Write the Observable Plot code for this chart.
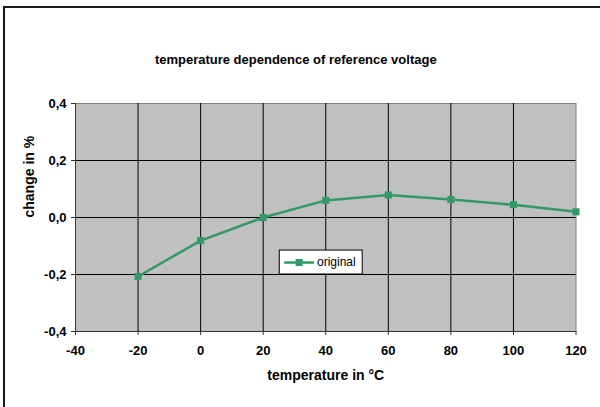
<!DOCTYPE html>
<html>
<head>
<meta charset="utf-8">
<script src="https://cdn.jsdelivr.net/npm/d3@7"></script>
<script src="https://cdn.jsdelivr.net/npm/@observablehq/plot@0.6"></script>
<style>
  html, body { margin: 0; padding: 0; background: #fff; }
  #wrap { position: relative; width: 600px; height: 407px; overflow: hidden; }
  #border { position: absolute; left: 3px; top: 6px; width: 700px; height: 600px; border: 2px solid #1a1a1a; box-sizing: border-box; pointer-events: none; }
  svg { font-family: "Liberation Sans", Arial, sans-serif; }
</style>
</head>
<body>
<div id="wrap"><div id="border"></div></div>
<script>
const temperatures = [-20, 0, 20, 40, 60, 80, 100, 120];
const changes = [-0.207, -0.081, 0.0, 0.06, 0.079, 0.063, 0.045, 0.02];
const xTicks = [-40, -20, 0, 20, 40, 60, 80, 100, 120];
const yTicks = [-0.4, -0.2, 0.0, 0.2, 0.4];
const seriesName = "original";
const title = "temperature dependence of reference voltage";
const xLabel = "temperature in °C";
const yLabel = "change in %";

const data = temperatures.map((t, i) => ({t, v: changes[i]}));
const fmtY = v => (v < 0 ? "-" : "") + Math.abs(v).toFixed(1).replace(".", ",");
const fmtX = v => (v < 0 ? "-" : "") + Math.abs(v);

const green = "#339966";

// legend placement (layout, in data units of the plot frame)
const LG = {x1: 25.3, x2: 51.8, y1: -0.116, y2: -0.2, lx1: 26.7, lx2: 36.3, mx: 31.5, tx: 37.2, ly: -0.158};

const chart = Plot.plot({
  width: 600,
  height: 407,
  marginLeft: 75,
  marginRight: 24.5,
  marginTop: 103,
  marginBottom: 76,
  style: {fontFamily: "'Liberation Sans', Arial, sans-serif", background: "transparent"},
  x: {domain: [-40, 120]},
  y: {domain: [-0.4, 0.4]},
  marks: [
    Plot.frame({fill: "#c0c0c0", stroke: "#808080"}),
    Plot.gridX(xTicks.slice(1, -1), {stroke: "#000", strokeOpacity: 1, strokeWidth: 1}),
    Plot.gridY(yTicks.slice(1, -1), {stroke: "#000", strokeOpacity: 1, strokeWidth: 1}),
    Plot.ruleX([-40], {stroke: "#333", strokeWidth: 1}),
    Plot.ruleY([-0.4], {stroke: "#333", strokeWidth: 1}),
    Plot.axisX(xTicks, {tickSize: 4, tickPadding: 10, fontSize: 13, fontWeight: "bold", fill: "#000", stroke: "#333",
      tickFormat: fmtX, label: null}),
    Plot.axisY(yTicks, {tickSize: 4, tickPadding: 5, fontSize: 13, fontWeight: "bold", fill: "#000", stroke: "#333",
      tickFormat: fmtY, label: null}),
    Plot.text([xLabel], {frameAnchor: "bottom", dy: 48, fontSize: 14, fontWeight: "bold", fill: "#000"}),
    Plot.text([yLabel], {frameAnchor: "left", dx: -46, rotate: -90, fontSize: 14, fontWeight: "bold", fill: "#000"}),
    Plot.text([title], {frameAnchor: "top", dy: -49, dx: -30, fontSize: 13, fontWeight: "bold", fill: "#000"}),
    Plot.line(data, {x: "t", y: "v", stroke: green, strokeWidth: 2.5}),
    Plot.dot(data, {x: "t", y: "v", symbol: "square", r: 4, fill: green, stroke: "none"}),
    // legend
    Plot.rect([seriesName], {x1: () => LG.x1, x2: () => LG.x2, y1: () => LG.y1, y2: () => LG.y2, fill: "#fff", stroke: "#000", strokeWidth: 1}),
    Plot.link([seriesName], {x1: () => LG.lx1, x2: () => LG.lx2, y1: () => LG.ly, y2: () => LG.ly, stroke: green, strokeWidth: 2.5}),
    Plot.dot([seriesName], {x: () => LG.mx, y: () => LG.ly, symbol: "square", r: 4, fill: green, stroke: "none"}),
    Plot.text([seriesName], {x: () => LG.tx, y: () => LG.ly, text: d => d, textAnchor: "start", fontSize: 12, fill: "#000"}),
  ]
});
document.getElementById("wrap").prepend(chart);
</script>
</body>
</html>
